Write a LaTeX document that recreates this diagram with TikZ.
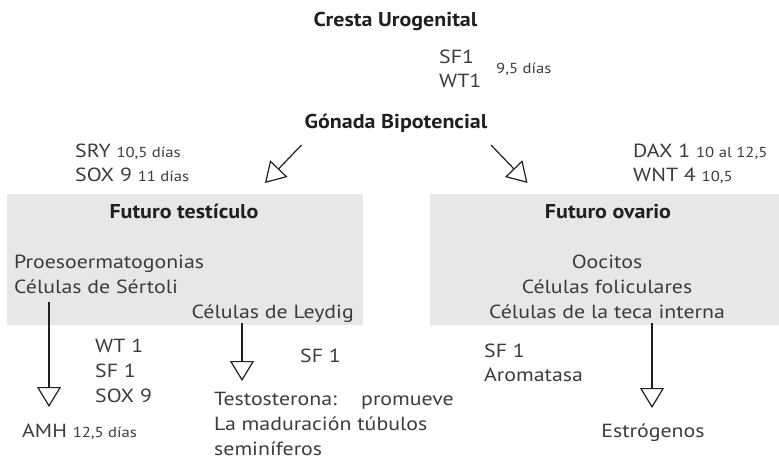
\documentclass[tikz,border=0pt]{standalone}
\usepackage{fontspec}
\setmainfont{PT Sans}
\newfontfamily\regf{PT Sans}[FakeStretch=1.15]
\newfontfamily\boldf{PT Sans Bold}[FakeStretch=1.1]
\usetikzlibrary{arrows.meta}
\definecolor{txtc}{HTML}{3C3C3C}
\definecolor{ttlc}{HTML}{231F20}
\definecolor{boxc}{HTML}{E6E7E8}
\definecolor{lnc}{HTML}{231F20}
\newcommand\sml[1]{{\fontsize{14.5}{17}\selectfont #1}}
\begin{document}
\begin{tikzpicture}[x=1pt,y=-1pt,
  lbl/.style={inner sep=0pt, text=txtc, font=\regf\fontsize{19}{23}\selectfont},
  ttl/.style={inner sep=0pt, text=ttlc, font=\boldf\fontsize{20}{24}\selectfont},
  gbox/.style={fill=boxc, draw=none, inner sep=0pt, anchor=north west},
  arr/.style={draw=lnc, line width=1.2pt, -{Triangle[open, length=20pt, width=24pt, line width=1.2pt]}}
]
\useasboundingbox (0,0) rectangle (779,459);
% boxes
\node[gbox, minimum width=356pt, minimum height=131pt] (tbox) at (7,194) {};
\node[gbox, minimum width=349pt, minimum height=131pt] (obox) at (430,194) {};
% top
\node[ttl, anchor=base] (cresta) at (395.5,26) {Cresta Urogenital};
\node[lbl, anchor=base west] (sf1a) at (439,63) {SF1};
\node[lbl, anchor=base west] (wt1a) at (439,87) {WT1};
\node[lbl, anchor=base west] (d95) at (496,73) {\sml{9,5 días}};
\node[ttl, anchor=base] (gonada) at (396,128) {Gónada Bipotencial};
\node[lbl, anchor=base west] (sry) at (75,157) {SRY \sml{10,5 días}};
\node[lbl, anchor=base west] (sox9a) at (75,181) {SOX 9 \sml{11 días}};
\node[lbl, anchor=base west] (dax) at (633,157) {DAX 1 \sml{10 al 12,5}};
\node[lbl, anchor=base west] (wnt) at (633,181) {WNT 4 \sml{10,5}};
% box texts
\node[ttl, anchor=base] (ft) at (184,218) {Futuro testículo};
\node[ttl, anchor=base] (fo) at (608,218) {Futuro ovario};
\node[lbl, anchor=base west] (proe) at (14,268) {Proesoermatogonias};
\node[lbl, anchor=base west] (sert) at (14,293) {Células de Sértoli};
\node[lbl, anchor=base east] (leyd) at (354,318) {Células de Leydig};
\node[lbl, anchor=base] (ooc) at (607,268) {Oocitos};
\node[lbl, anchor=base] (fol) at (607,293) {Células foliculares};
\node[lbl, anchor=base] (teca) at (607,318) {Células de la teca interna};
% bottom
\node[lbl, anchor=base west] (wt1b) at (95,352) {WT 1};
\node[lbl, anchor=base west] (sf1b) at (95,377) {SF 1};
\node[lbl, anchor=base west] (sox9b) at (95,402) {SOX 9};
\node[lbl, anchor=base west] (sf1c) at (300,362) {SF 1};
\node[lbl, anchor=base west] (sf1d) at (484,357) {SF 1};
\node[lbl, anchor=base west] (arom) at (484,381) {Aromatasa};
\node[lbl, anchor=base west] (amh) at (22,437) {AMH \sml{12,5 días}};
\node[lbl, anchor=base west] (testo) at (214,405) {Testosterona:};
\node[lbl, anchor=base west] (prom) at (361,405) {promueve};
\node[lbl, anchor=base west] (madu) at (214,430) {La maduración túbulos};
\node[lbl, anchor=base west] (semi) at (214,455) {seminíferos};
\node[lbl, anchor=base] (estr) at (653,437) {Estrógenos};
% arrows
\coordinate (g1s) at (301.5,145);
\coordinate (g1e) at (265,183);
\coordinate (g2s) at (491,145);
\coordinate (g2e) at (527.5,183);
\coordinate (a1s) at (49,302);
\coordinate (a1e) at (49,407);
\coordinate (a2s) at (242,323);
\coordinate (a2e) at (242,381);
\coordinate (a3s) at (652,323);
\coordinate (a3e) at (652,408);
\draw[arr] (g1s) -- (g1e);
\draw[arr] (g2s) -- (g2e);
\draw[arr] (a1s) -- (a1e);
\draw[arr] (a2s) -- (a2e);
\draw[arr] (a3s) -- (a3e);
\end{tikzpicture}
\end{document}
